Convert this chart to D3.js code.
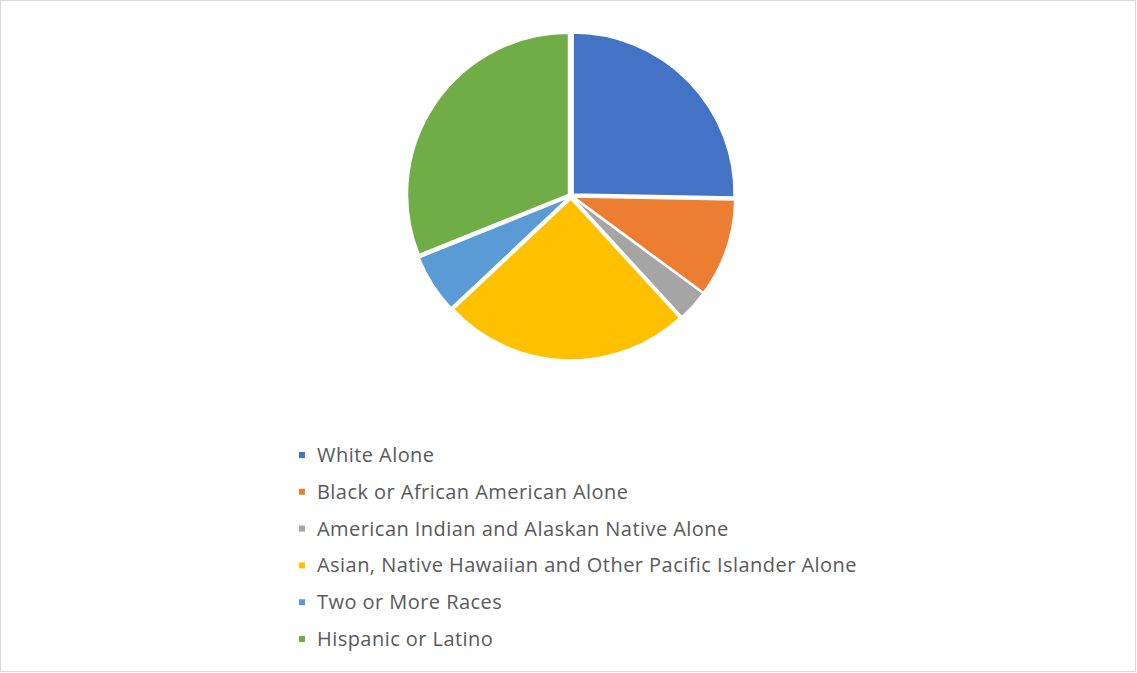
<!DOCTYPE html>
<html><head><meta charset="utf-8">
<script src="https://cdn.jsdelivr.net/npm/d3@7"></script>
<style>body{margin:0;background:#fff}svg{display:block}</style>
</head><body>
<script>
const categories = ["White Alone","Black or African American Alone","American Indian and Alaskan Native Alone","Asian, Native Hawaiian and Other Pacific Islander Alone","Two or More Races","Hispanic or Latino"];
const values = [25.3, 9.8, 3.1, 24.8, 5.9, 31.1];
const colors = ["#4472C4","#ED7D31","#A5A5A5","#FFC000","#5B9BD5","#70AD47"];

const W=1137,H=673;
const svg=d3.select("body").append("svg").attr("width",W).attr("height",H);
svg.append("rect").attr("x",0.5).attr("y",0.5).attr("width",W-2).attr("height",H-2).attr("fill","#fff").attr("stroke","#d9d9d9");

const cx=571, cy=196, r=161, explode=3;
const pie=d3.pie().sort(null).value(d=>d)(values);
const arc=d3.arc().innerRadius(0).outerRadius(r);
const g=svg.append("g").attr("transform",`translate(${cx},${cy})`);
g.selectAll("path").data(pie).join("path")
 .attr("d",arc)
 .attr("fill",(d,i)=>colors[i])
 .attr("stroke","#fff").attr("stroke-width",1.5)
 .attr("transform",d=>{const a=(d.startAngle+d.endAngle)/2;return `translate(${Math.sin(a)*explode},${-Math.cos(a)*explode})`;});

const y=d3.scalePoint().domain(categories).range([455,639]);
const lg=svg.append("g");
const items=lg.selectAll("g").data(categories).join("g").attr("transform",d=>`translate(0,${y(d)})`);
items.append("rect").attr("x",299).attr("y",-3).attr("width",6).attr("height",6).attr("fill",(d,i)=>colors[i]);
items.append("text").attr("x",317).attr("y",0).attr("dy","0.35em")
 .attr("font-family","'Open Sans', sans-serif").attr("font-size",20).attr("letter-spacing","0.45px").attr("fill","#595959").text(d=>d);
</script>
</body></html>
